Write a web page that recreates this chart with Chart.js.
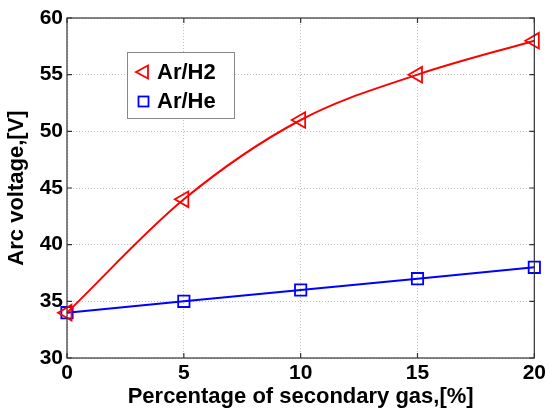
<!DOCTYPE html>
<html>
<head>
<meta charset="utf-8">
<script src="https://cdn.jsdelivr.net/npm/chart.js@4/dist/chart.umd.min.js"></script>
<style>
  html, body { margin: 0; padding: 0; background: #fff; }
  #wrap { width: 549px; height: 414px; }
</style>
</head>
<body>
<div id="wrap"><canvas id="myChart" width="549" height="414"></canvas></div>
<script>
// data
const gasPercent = [0, 5, 10, 15, 20];
const arH2 = [34, 44, 51, 55, 58];
const arHe = [34, 35, 36, 37, 38];
const xTicks = [0, 5, 10, 15, 20];
const yTicks = [30, 35, 40, 45, 50, 55, 60];

const FAM = 'Arial, "Liberation Sans", sans-serif';
const tickFont = { family: FAM, size: 21, weight: 'bold' };
const titleFont = { family: FAM, size: 22, weight: 'bold' };

// legend box drawn inside plot, like the matlab one
const boxLegend = {
  id: 'boxLegend',
  afterDraw(chart) {
    const ctx = chart.ctx;
    const x = 127, y = 52, w = 107, h = 66;
    ctx.save();
    ctx.fillStyle = '#fff';
    ctx.fillRect(x, y, w, h);
    ctx.strokeStyle = '#888';
    ctx.lineWidth = 1;
    ctx.strokeRect(x + 0.5, y + 0.5, w, h);
    ctx.font = 'bold 22px ' + FAM;
    ctx.textBaseline = 'middle';
    chart.data.datasets.forEach((ds, i) => {
      const cy = y + 20 + i * 29;
      ctx.strokeStyle = ds.borderColor;
      ctx.lineWidth = 1.8;
      if (ds.pointStyle === 'triangle') {
        ctx.beginPath();
        ctx.moveTo(136, cy);
        ctx.lineTo(148, cy - 6.5);
        ctx.lineTo(148, cy + 6.5);
        ctx.closePath();
        ctx.stroke();
      } else {
        ctx.strokeRect(138.5, cy - 4.5, 10, 10);
      }
      ctx.fillStyle = '#000';
      ctx.fillText(ds.label, 157, cy + 1);
    });
    ctx.restore();
  }
};

// box around plot area with inward ticks
const frame = {
  id: 'frame',
  afterDatasetsDraw(chart) {
    const a = chart.chartArea, ctx = chart.ctx;
    const sx = chart.scales.x, sy = chart.scales.y;
    ctx.save();
    ctx.strokeStyle = '#333';
    ctx.lineWidth = 1.2;
    ctx.strokeRect(a.left, a.top, a.right - a.left, a.bottom - a.top);
    ctx.beginPath();
    xTicks.forEach(v => {
      const px = sx.getPixelForValue(v);
      ctx.moveTo(px, a.bottom); ctx.lineTo(px, a.bottom - 5);
      ctx.moveTo(px, a.top); ctx.lineTo(px, a.top + 5);
    });
    yTicks.forEach(v => {
      const py = sy.getPixelForValue(v);
      ctx.moveTo(a.left, py); ctx.lineTo(a.left + 5, py);
      ctx.moveTo(a.right, py); ctx.lineTo(a.right - 5, py);
    });
    ctx.stroke();
    ctx.restore();
  }
};

new Chart(document.getElementById('myChart').getContext('2d'), {
  type: 'line',
  data: {
    datasets: [{
      label: 'Ar/H2',
      data: gasPercent.map((v, i) => ({ x: v, y: arH2[i] })),
      borderColor: '#ff0000',
      backgroundColor: 'transparent',
      borderWidth: 2,
      pointStyle: 'triangle',
      rotation: -90,
      pointRadius: 9,
      pointBorderWidth: 1.8,
      cubicInterpolationMode: 'monotone'
    }, {
      label: 'Ar/He',
      data: gasPercent.map((v, i) => ({ x: v, y: arHe[i] })),
      borderColor: '#0000ff',
      backgroundColor: 'transparent',
      borderWidth: 2,
      pointStyle: 'rect',
      pointRadius: 8,
      pointBorderWidth: 1.8,
      tension: 0
    }]
  },
  options: {
    responsive: false,
    animation: false,
    clip: false,
    layout: { padding: { top: 18, right: 12, left: 0, bottom: 0 } },
    plugins: { legend: { display: false }, tooltip: { enabled: false } },
    scales: {
      x: {
        type: 'linear', min: 0, max: 20,
        afterBuildTicks: s => { s.ticks = xTicks.map(v => ({ value: v })); },
        afterFit: s => { s.height = 56; },
        grid: { color: '#c0c0c0', drawTicks: false },
        border: { display: false, dash: [1, 2] },
        ticks: { color: '#000', font: tickFont, padding: 3, maxRotation: 0 },
        title: { display: true, text: 'Percentage of secondary gas,[%]', color: '#000', font: titleFont, padding: { top: 0 } }
      },
      y: {
        min: 30, max: 60,
        afterBuildTicks: s => { s.ticks = yTicks.map(v => ({ value: v })); },
        afterFit: s => { s.width = 67; },
        grid: { color: '#c0c0c0', drawTicks: false },
        border: { display: false, dash: [1, 2] },
        ticks: { color: '#000', font: tickFont, padding: 4 },
        title: { display: true, text: 'Arc voltage,[V]', color: '#000', font: titleFont, padding: { bottom: 2 } }
      }
    }
  },
  plugins: [frame, boxLegend]
});
</script>
</body>
</html>
